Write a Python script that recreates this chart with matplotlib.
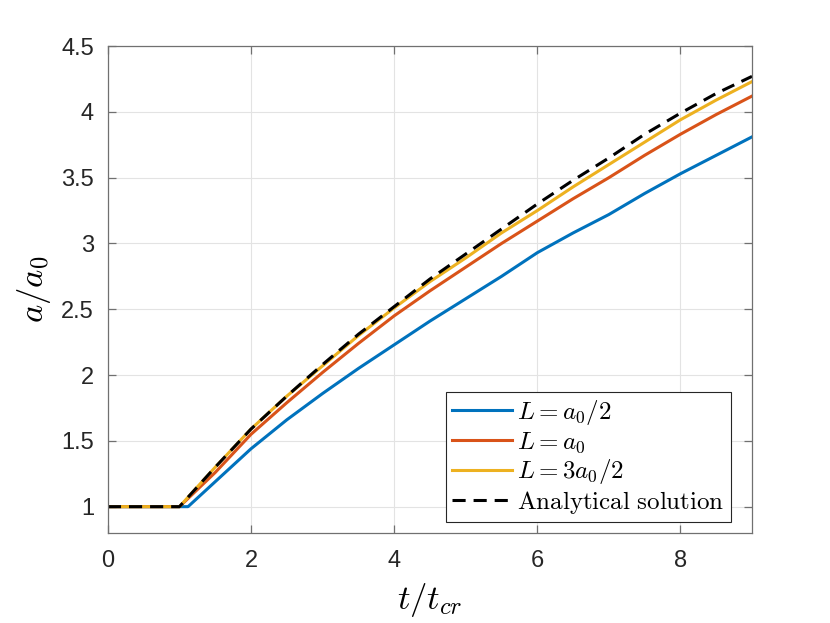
import matplotlib
matplotlib.use("Agg")
import matplotlib.pyplot as plt

plt.rcParams['mathtext.fontset'] = 'cm'
plt.rcParams['font.family'] = ['Liberation Sans', 'DejaVu Sans']

# Data
t_half = [0, 1.12, 1.5, 2, 2.5, 3, 3.5, 4, 4.5, 5, 5.5, 6, 6.5, 7, 7.5, 8, 8.5, 9]
a_half = [1, 1.0, 1.19, 1.44, 1.66, 1.86, 2.05, 2.23, 2.41, 2.58, 2.75, 2.93, 3.08, 3.22, 3.38, 3.53, 3.67, 3.81]

t_sim = [0, 1, 1.5, 2, 2.5, 3, 3.5, 4, 4.5, 5, 5.5, 6, 6.5, 7, 7.5, 8, 8.5, 9]
a_one = [1, 1, 1.26, 1.55, 1.79, 2.02, 2.24, 2.45, 2.64, 2.82, 3.00, 3.17, 3.34, 3.50, 3.67, 3.83, 3.98, 4.12]
a_three_half = [1, 1, 1.30, 1.59, 1.84, 2.07, 2.30, 2.51, 2.71, 2.89, 3.08, 3.25, 3.43, 3.60, 3.77, 3.94, 4.09, 4.23]

t_ana = [0, 1, 1.5, 2, 2.5, 3, 3.5, 4, 4.5, 5, 5.5, 6, 6.5, 7, 7.5, 8, 8.5, 9]
a_ana = [1, 1, 1.30, 1.59, 1.84, 2.08, 2.31, 2.52, 2.73, 2.92, 3.11, 3.30, 3.48, 3.65, 3.83, 3.99, 4.14, 4.27]

labels = [r'$L=a_0/2$', r'$L=a_0$', r'$L=3a_0/2$', r'$\mathrm{Analytical\ solution}$']
colors = ['#0072BD', '#D95319', '#EDB120', 'black']

xticks = [0, 2, 4, 6, 8]
yticks = [1, 1.5, 2, 2.5, 3, 3.5, 4, 4.5]
ytick_labels = ['1', '1.5', '2', '2.5', '3', '3.5', '4', '4.5']

fig = plt.figure(figsize=(8.3, 6.23), dpi=100)
ax = fig.add_axes([0.130, 0.1445, 0.776, 0.7815])

lw = 2.2
ax.plot(t_half, a_half, color=colors[0], lw=lw, label=labels[0])
ax.plot(t_sim, a_one, color=colors[1], lw=lw, label=labels[1])
ax.plot(t_sim, a_three_half, color=colors[2], lw=lw, label=labels[2])
ax.plot(t_ana, a_ana, color=colors[3], lw=lw, dashes=(4.3, 2.6), label=labels[3])

ax.set_xlim(0, 9)
ax.set_ylim(0.8, 4.5)
ax.set_xticks(xticks)
ax.set_xticklabels([str(v) for v in xticks])
ax.set_yticks(yticks)
ax.set_yticklabels(ytick_labels)

ax.grid(True, color='#e3e3e3', lw=0.8)
ax.set_axisbelow(True)
for s in ax.spines.values():
    s.set_color('#707070')
    s.set_linewidth(0.9)
ax.tick_params(direction='in', top=True, right=True, length=6, width=0.9,
               colors='#707070', labelcolor='#262626', labelsize=17)
ax.tick_params(axis='x', pad=12)
ax.tick_params(axis='y', pad=10)

ax.set_xlabel(r'$t/t_{cr}$', fontsize=25, labelpad=7)
ax.set_ylabel(r'$a/a_0$', fontsize=25, labelpad=6)

leg = ax.legend(loc='lower right', bbox_to_anchor=(0.967, 0.0225), fontsize=18,
                frameon=True, fancybox=False, edgecolor='#262626', framealpha=1,
                handlelength=2.4, handletextpad=0.2, borderpad=0.25,
                labelspacing=0.1, borderaxespad=0)
leg.get_frame().set_linewidth(0.8)

fig.savefig('out.png', dpi=100, facecolor='white')
